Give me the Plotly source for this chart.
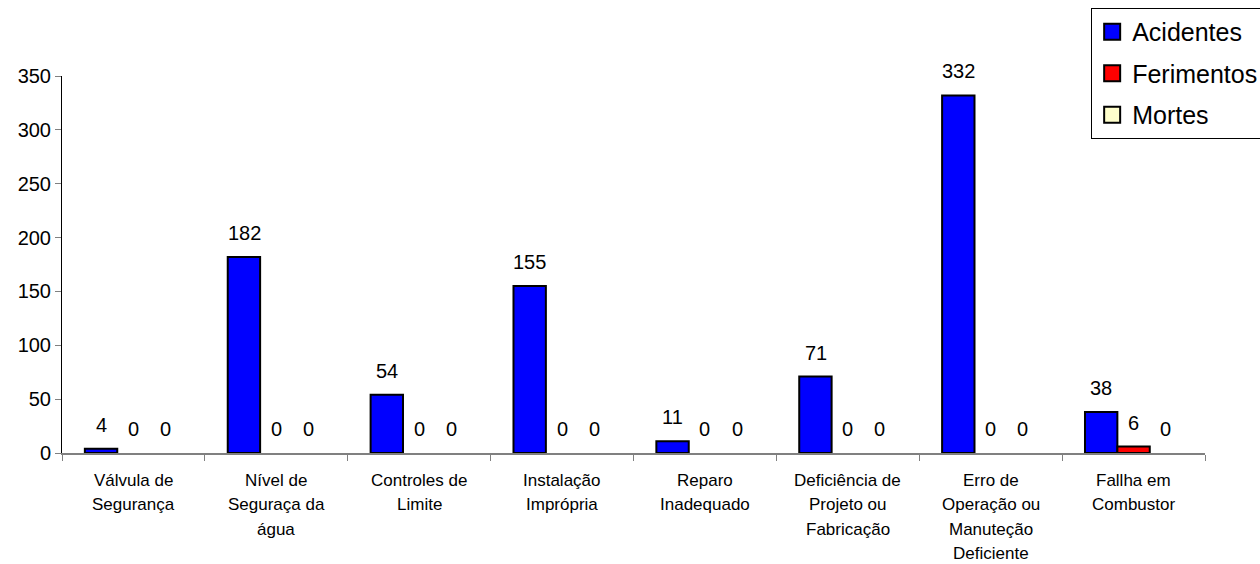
import plotly.graph_objects as go

categories = [
    "Válvula de<br>Segurança",
    "Nível de<br>Seguraça da<br>água",
    "Controles de<br>Limite",
    "Instalação<br>Imprópria",
    "Reparo<br>Inadequado",
    "Deficiência de<br>Projeto ou<br>Fabricação",
    "Erro de<br>Operação ou<br>Manuteção<br>Deficiente",
    "Fallha em<br>Combustor",
]
acidentes = [4, 182, 54, 155, 11, 71, 332, 38]
ferimentos = [0, 0, 0, 0, 0, 0, 0, 6]
mortes = [0, 0, 0, 0, 0, 0, 0, 0]

series = [
    ("Acidentes", acidentes, "#0000FF"),
    ("Ferimentos", ferimentos, "#FF0000"),
    ("Mortes", mortes, "#FFFFCC"),
]

FONT = "Liberation Sans, Arial, sans-serif"

fig = go.Figure()
for i, (name, vals, color) in enumerate(series):
    fig.add_trace(go.Bar(
        name=name, x=categories, y=vals,
        marker=dict(color=color,
                    line=dict(color="black", width=[2 if v > 0 else 0 for v in vals])),
        showlegend=False, legendgroup=name,
    ))
# legend entries (square swatches)
for i, (name, vals, color) in enumerate(series):
    fig.add_trace(go.Scatter(
        name=name, x=[None], y=[None], mode="markers",
        marker=dict(symbol="square", size=16, color=color,
                    line=dict(color="black", width=2)),
        showlegend=True, legendgroup=name,
    ))

annotations = []
offsets = [-1, 0, 1]
for si, (name, vals, color) in enumerate(series):
    for ci, v in enumerate(vals):
        annotations.append(dict(
            x=ci + offsets[si] * 0.225, y=v, xref="x", yref="y",
            text=str(v), showarrow=False, yanchor="middle", yshift=24,
            font=dict(family=FONT, size=20, color="black"),
        ))

for ci, cat in enumerate(categories):
    for li, line in enumerate(cat.split("<br>")):
        annotations.append(dict(
            x=ci, y=0, xref="x", yref="y", text=line, showarrow=False,
            yanchor="middle", yshift=-27 - li * 24.5,
            font=dict(family=FONT, size=17, color="black"),
        ))

fig.update_layout(
    width=1260, height=564,
    margin=dict(l=62, r=55, t=76, b=111, autoexpand=False),
    plot_bgcolor="white", paper_bgcolor="white",
    barmode="group", bargap=0.32, bargroupgap=0,
    font=dict(family=FONT, color="black"),
    showlegend=True,
    legend=dict(
        xref="container", yref="container", x=0.866, y=0.986,
        xanchor="left", yanchor="top",
        bordercolor="black", borderwidth=1, bgcolor="white",
        font=dict(family=FONT, size=25, color="black"),
        tracegroupgap=6, traceorder="grouped",
        itemwidth=30,
    ),
    xaxis=dict(
        type="category", tickson="boundaries", ticks="outside", ticklen=6,
        tickcolor="#808080", showticklabels=False, showline=True,
        linecolor="#808080", linewidth=2, showgrid=False, zeroline=False,
        range=[-0.5, 7.5],
    ),
    yaxis=dict(
        range=[0, 350], tickvals=[0, 50, 100, 150, 200, 250, 300, 350],
        ticks="outside", ticklen=6, tickcolor="#808080", showline=True,
        linecolor="black", linewidth=1, showgrid=False, zeroline=False,
        tickfont=dict(family=FONT, size=20, color="black"),
    ),
    annotations=annotations,
)

fig.write_html("out.html")
